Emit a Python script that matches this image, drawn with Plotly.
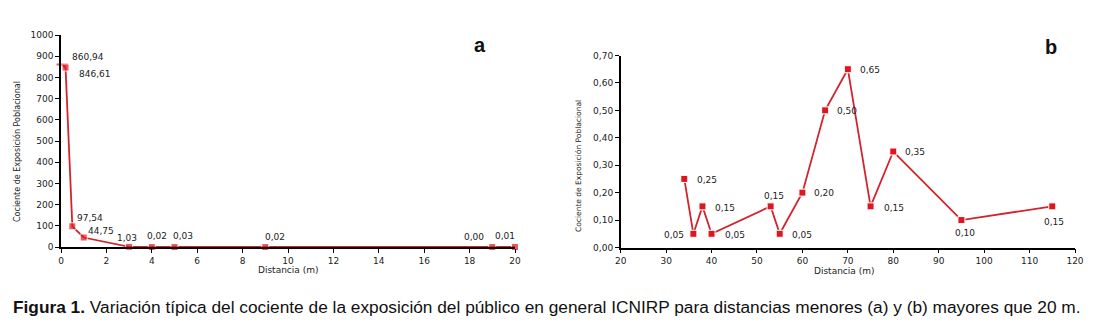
import plotly.graph_objects as go

# ---- data: panel a (distances < 20 m)
dist_a = [0.05, 0.2, 0.5, 1, 3, 4, 5, 9, 19, 20]
ratio_a = [860.94, 846.61, 97.54, 44.75, 1.03, 0.02, 0.03, 0.02, 0.00, 0.01]
labels_a = ["860,94", "846,61", "97,54", "44,75", "1,03", "0,02", "0,03", "0,02", "0,00", "0,01"]

# ---- data: panel b (distances > 20 m)
dist_b = [34, 36, 38, 40, 53, 55, 60, 65, 70, 75, 80, 95, 115]
ratio_b = [0.25, 0.05, 0.15, 0.05, 0.15, 0.05, 0.20, 0.50, 0.65, 0.15, 0.35, 0.10, 0.15]
labels_b = ["0,25", "0,05", "0,15", "0,05", "0,15", "0,05", "0,20", "0,50", "0,65", "0,15", "0,35", "0,10", "0,15"]

xticks_a = [0, 2, 4, 6, 8, 10, 12, 14, 16, 18, 20]
yticks_a = [0, 100, 200, 300, 400, 500, 600, 700, 800, 900, 1000]
xticks_b = [20, 30, 40, 50, 60, 70, 80, 90, 100, 110, 120]
yticks_b = [0.0, 0.1, 0.2, 0.3, 0.4, 0.5, 0.6, 0.7]
yticklabels_b = ["0,00", "0,10", "0,20", "0,30", "0,40", "0,50", "0,60", "0,70"]

RED = "#de1620"
LINE = "#d3242d"
FONT = "DejaVu Sans"
TXT = "#222222"

# label placement styles: (anchor, dx px, dy px screen-down)
place_a = [("left", 8, -7), ("left", 11, 6.5), ("left", 3, -8), ("left", 2, -6.5),
           ("center", -2, -9), ("center", 5, -11), ("center", 8.5, -11), ("center", 10, -10),
           ("center", -18, -10), ("center", -10, -11)]
place_b = [("left", 11, 1), ("right", -7.5, 1), ("left", 10.5, 2), ("left", 11, 1),
           ("center", 3, -10), ("left", 10, 1), ("left", 9.5, 0), ("left", 9.5, 1),
           ("left", 10, 1), ("left", 11, 2), ("left", 10, 0), ("center", 4, 13),
           ("center", 2, 16)]

fig = go.Figure()

n_a = len(dist_a)
fig.add_trace(go.Scatter(
    x=dist_a, y=ratio_a, mode="lines+markers",
    line=dict(color=LINE, width=1.8),
    marker=dict(symbol=["line-ew"] + ["square"] * (n_a - 1),
                size=[8] + [7] * (n_a - 1), color=RED,
                line=dict(color=[RED] + ["white"] * (n_a - 1),
                          width=[2] + [1] * (n_a - 1))),
    cliponaxis=False, showlegend=False, hoverinfo="skip", xaxis="x", yaxis="y"))

fig.add_trace(go.Scatter(
    x=dist_b, y=ratio_b, mode="lines+markers",
    line=dict(color=LINE, width=1.8),
    marker=dict(symbol="square", size=7, color=RED, line=dict(color="white", width=1)),
    cliponaxis=False, showlegend=False, hoverinfo="skip", xaxis="x2", yaxis="y2"))

axis_common = dict(showgrid=False, zeroline=False, showline=True, linecolor="black",
                   linewidth=1.5, ticks="outside", ticklen=4, tickcolor="black",
                   tickwidth=1.2, automargin=False,
                   tickfont=dict(family=FONT, size=9, color=TXT))

annotations = []
for xv, yv, t, (anc, dx, dy) in zip(dist_a, ratio_a, labels_a, place_a):
    annotations.append(dict(x=xv, y=yv, xref="x", yref="y", text=t, showarrow=False,
                            xanchor=anc, yanchor="middle", xshift=dx, yshift=-dy,
                            font=dict(family=FONT, size=9, color=TXT)))
for xv, yv, t, (anc, dx, dy) in zip(dist_b, ratio_b, labels_b, place_b):
    annotations.append(dict(x=xv, y=yv, xref="x2", yref="y2", text=t, showarrow=False,
                            xanchor=anc, yanchor="middle", xshift=dx, yshift=-dy,
                            font=dict(family=FONT, size=9, color=TXT)))


def paper_text(text, px, py, size, family=FONT, angle=0, xanchor="center", color=TXT):
    return dict(text=text, x=px / 1100, y=1 - py / 333, xref="paper", yref="paper",
                xanchor=xanchor, yanchor="middle", showarrow=False, textangle=angle,
                font=dict(family=family, size=size, color=color))


annotations += [
    paper_text("<b>a</b>", 480, 45, 20, family="Liberation Sans", color="#111"),
    paper_text("<b>b</b>", 1051, 47, 20, family="Liberation Sans", color="#111"),
    paper_text("Distancia (m)", 288, 270, 9),
    paper_text("Distancia (m)", 844, 271, 9),
    paper_text("Cociente de Exposición Poblacional", 17, 152, 8, angle=-90),
    paper_text("Cociente de Exposición Poblacional", 578, 166, 7.5, angle=-90),
    paper_text("<b>Figura 1.</b> Variación típica del cociente de la exposición del público en general ICNIRP para distancias menores (a) y (b) mayores que 20 m.",
               11, 307, 17.3, family="Liberation Sans", xanchor="left", color="#111"),
]

fig.update_layout(
    width=1100, height=333,
    margin=dict(l=0, r=0, t=0, b=0, autoexpand=False),
    paper_bgcolor="white", plot_bgcolor="white",
    font=dict(family=FONT, color=TXT),
    xaxis=dict(domain=[61 / 1100, 515 / 1100], range=[0, 20], tickvals=xticks_a,
               anchor="y", **axis_common),
    yaxis=dict(domain=[1 - 247 / 333, 1 - 35 / 333], range=[0, 1000], tickvals=yticks_a,
               anchor="x", **axis_common),
    xaxis2=dict(domain=[620.7 / 1100, 1075 / 1100], range=[20, 120], tickvals=xticks_b,
                anchor="y2", **axis_common),
    yaxis2=dict(domain=[1 - 247.5 / 333, 1 - 55.5 / 333], range=[0, 0.7], tickvals=yticks_b,
                ticktext=yticklabels_b, anchor="x2", **axis_common),
    annotations=annotations,
)

fig.write_html("out.html", config={"displayModeBar": False},
               post_script="document.body.style.margin='0px';document.body.style.overflow='hidden';")
